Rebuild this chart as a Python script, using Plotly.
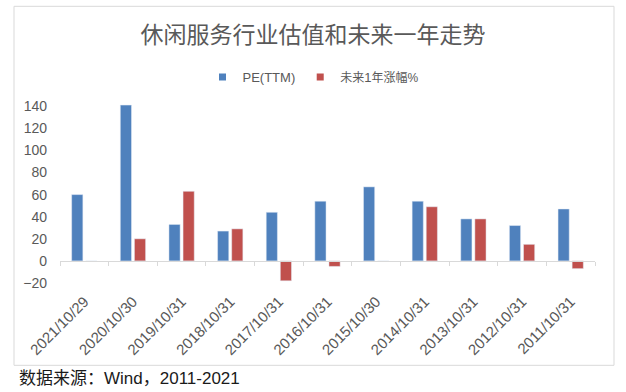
import plotly.graph_objects as go

categories = ["2021/10/29", "2020/10/30", "2019/10/31", "2018/10/31", "2017/10/31",
              "2016/10/31", "2015/10/30", "2014/10/31", "2013/10/31", "2012/10/31",
              "2011/10/31"]
pe_ttm = [60, 141, 33, 27, 44, 54, 67, 54, 38, 32, 47]
future_1y = [0, 20, 63, 29, -18, -5, 0, 49, 38, 15, -7]
series_names = ["PE(TTM)", "未来1年涨幅%"]

BLUE = "#4F81BD"
RED = "#C0504D"
GRAY = "#595959"
LINE = "#D9D9D9"
FONT = "Liberation Sans, Arial, Noto Sans CJK SC"

fig = go.Figure()
fig.add_trace(go.Bar(x=categories, y=pe_ttm, name=series_names[0], marker_color=BLUE,
                     width=0.23, offset=-0.26, showlegend=False))
fig.add_trace(go.Bar(x=categories, y=future_1y, name=series_names[1], marker_color=RED,
                     width=0.23, offset=0.03, showlegend=False))
# legend markers
fig.add_trace(go.Scatter(x=[None], y=[None], mode="markers", name=series_names[0],
                         marker=dict(symbol="square", size=7, color=BLUE)))
fig.add_trace(go.Scatter(x=[None], y=[None], mode="markers",
                         name="<span style='font-size:12px'>未来</span>1<span style='font-size:12px'>年涨幅%</span>",
                         marker=dict(symbol="square", size=7, color=RED)))
# helper trace for zero-line axis with boundary ticks
fig.add_trace(go.Scatter(x=categories, y=[None] * len(categories), xaxis="x2",
                         mode="markers", showlegend=False, hoverinfo="skip"))

fig.update_layout(
    width=626, height=392,
    margin=dict(l=60, r=31, t=104, b=109, autoexpand=False),
    paper_bgcolor="white", plot_bgcolor="white",
    font=dict(family=FONT, color=GRAY, size=14),
    title=dict(text="休闲服务行业估值和未来一年走势", xref="container", x=0.5, xanchor="center",
               yref="container", y=1 - 35 / 392, yanchor="middle",
               font=dict(family="Noto Sans CJK SC", size=23, color=GRAY)),
    legend=dict(orientation="h", xref="container", x=0.5, xanchor="center",
                yref="container", y=1 - 77 / 392, yanchor="middle",
                font=dict(family=FONT, size=13, color=GRAY),
                itemwidth=30, bgcolor="rgba(0,0,0,0)", traceorder="normal"),
    barmode="group",
    xaxis=dict(type="category", categoryorder="array", categoryarray=categories,
               range=[-0.5, len(categories) - 0.5], automargin=False,
               showgrid=False, zeroline=False, showline=False, ticks="",
               tickangle=-45, tickfont=dict(size=15, color=GRAY),
               ticklabelstandoff=6),
    xaxis2=dict(type="category", categoryorder="array", categoryarray=categories,
                range=[-0.5, len(categories) - 0.5], automargin=False,
                overlaying="x", anchor="free", position=20 / 162,
                showgrid=False, zeroline=False, showline=True, linecolor=LINE, linewidth=1,
                ticks="outside", tickson="boundaries", ticklen=4, tickcolor=LINE,
                showticklabels=False),
    yaxis=dict(range=[-20, 142], tickvals=[-20, 0, 20, 40, 60, 80, 100, 120, 140],
               automargin=False,
               showgrid=False, zeroline=False, showline=False, ticks="",
               tickfont=dict(size=14, color=GRAY), ticklabelstandoff=12),
    shapes=[dict(type="rect", xref="paper", yref="paper",
                 x0=(14 - 60) / 535, x1=(614 - 60) / 535,
                 y0=(282.7 - 365) / 179, y1=(282.7 - 6) / 179,
                 line=dict(color=LINE, width=1), fillcolor="rgba(0,0,0,0)", layer="below")],
    annotations=[dict(text="数据来源：Wind，2011-2021", xref="paper", yref="paper",
                      x=(17 - 60) / 535, y=(282.7 - 378) / 179, xanchor="left", yanchor="middle",
                      showarrow=False, font=dict(family=FONT, size=17, color="#1A1A1A"))],
)

fig.write_html("out.html", config={"displayModeBar": False},
               post_script="document.body.style.margin='0';")
